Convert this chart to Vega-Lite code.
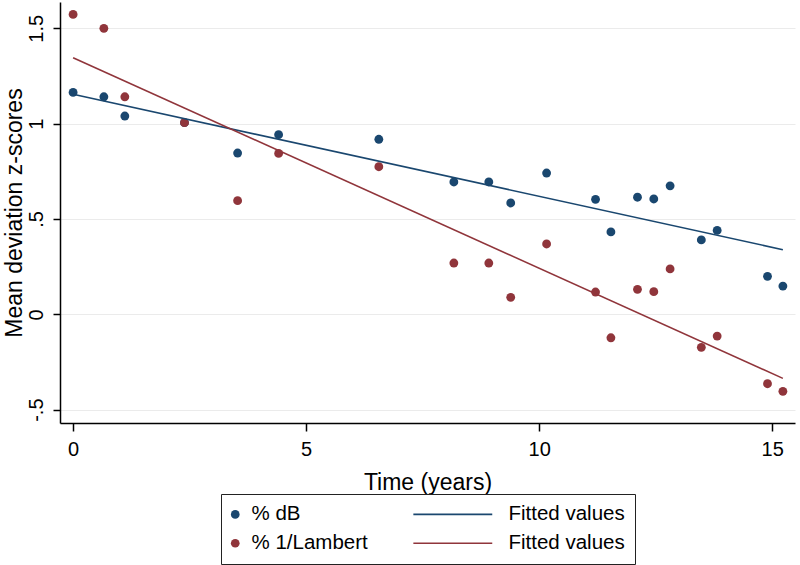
{
  "$schema": "https://vega.github.io/schema/vega-lite/v6.json",
  "width": 735,
  "height": 421,
  "autosize": {"type": "none"},
  "padding": {"left": 60, "top": 2, "right": 5, "bottom": 142},
  "background": "white",
  "config": {
    "view": {"stroke": null},
    "font": "Liberation Sans",
    "axis": {
      "domainColor": "#000000",
      "domainWidth": 1.5,
      "tickColor": "#000000",
      "tickWidth": 1.5,
      "labelColor": "#000000",
      "titleColor": "#000000",
      "labelFont": "Liberation Sans",
      "titleFont": "Liberation Sans",
      "labelFontSize": 20,
      "titleFontSize": 23,
      "titleFontWeight": "normal"
    },
    "legend": {
      "symbolStrokeWidth": 0,
      "labelFont": "Liberation Sans",
      "labelFontSize": 20.5,
      "labelColor": "#000000"
    }
  },
  "data": {
    "values": [
      {"t": 0.0, "z": 1.164, "series": "% dB", "kind": "pt"},
      {"t": 0.66, "z": 1.141, "series": "% dB", "kind": "pt"},
      {"t": 1.11, "z": 1.04, "series": "% dB", "kind": "pt"},
      {"t": 2.39, "z": 1.005, "series": "% dB", "kind": "pt"},
      {"t": 3.53, "z": 0.846, "series": "% dB", "kind": "pt"},
      {"t": 4.41, "z": 0.942, "series": "% dB", "kind": "pt"},
      {"t": 6.56, "z": 0.918, "series": "% dB", "kind": "pt"},
      {"t": 8.17, "z": 0.694, "series": "% dB", "kind": "pt"},
      {"t": 8.92, "z": 0.694, "series": "% dB", "kind": "pt"},
      {"t": 9.39, "z": 0.584, "series": "% dB", "kind": "pt"},
      {"t": 10.16, "z": 0.741, "series": "% dB", "kind": "pt"},
      {"t": 11.21, "z": 0.603, "series": "% dB", "kind": "pt"},
      {"t": 11.54, "z": 0.432, "series": "% dB", "kind": "pt"},
      {"t": 12.11, "z": 0.614, "series": "% dB", "kind": "pt"},
      {"t": 12.46, "z": 0.605, "series": "% dB", "kind": "pt"},
      {"t": 12.81, "z": 0.674, "series": "% dB", "kind": "pt"},
      {"t": 13.48, "z": 0.39, "series": "% dB", "kind": "pt"},
      {"t": 13.82, "z": 0.44, "series": "% dB", "kind": "pt"},
      {"t": 14.9, "z": 0.199, "series": "% dB", "kind": "pt"},
      {"t": 15.23, "z": 0.148, "series": "% dB", "kind": "pt"},
      {"t": 0.0, "z": 1.573, "series": "% 1/Lambert", "kind": "pt"},
      {"t": 0.66, "z": 1.5, "series": "% 1/Lambert", "kind": "pt"},
      {"t": 1.11, "z": 1.141, "series": "% 1/Lambert", "kind": "pt"},
      {"t": 2.39, "z": 1.005, "series": "% 1/Lambert", "kind": "pt"},
      {"t": 3.53, "z": 0.596, "series": "% 1/Lambert", "kind": "pt"},
      {"t": 4.41, "z": 0.844, "series": "% 1/Lambert", "kind": "pt"},
      {"t": 6.56, "z": 0.774, "series": "% 1/Lambert", "kind": "pt"},
      {"t": 8.17, "z": 0.269, "series": "% 1/Lambert", "kind": "pt"},
      {"t": 8.92, "z": 0.269, "series": "% 1/Lambert", "kind": "pt"},
      {"t": 9.39, "z": 0.089, "series": "% 1/Lambert", "kind": "pt"},
      {"t": 10.16, "z": 0.369, "series": "% 1/Lambert", "kind": "pt"},
      {"t": 11.21, "z": 0.117, "series": "% 1/Lambert", "kind": "pt"},
      {"t": 11.54, "z": -0.123, "series": "% 1/Lambert", "kind": "pt"},
      {"t": 12.11, "z": 0.131, "series": "% 1/Lambert", "kind": "pt"},
      {"t": 12.46, "z": 0.119, "series": "% 1/Lambert", "kind": "pt"},
      {"t": 12.81, "z": 0.238, "series": "% 1/Lambert", "kind": "pt"},
      {"t": 13.48, "z": -0.173, "series": "% 1/Lambert", "kind": "pt"},
      {"t": 13.82, "z": -0.114, "series": "% 1/Lambert", "kind": "pt"},
      {"t": 14.9, "z": -0.364, "series": "% 1/Lambert", "kind": "pt"},
      {"t": 15.23, "z": -0.404, "series": "% 1/Lambert", "kind": "pt"},
      {"t": 0.0, "z": 1.154, "series": "fit dB", "kind": "fit"},
      {"t": 15.23, "z": 0.339, "series": "fit dB", "kind": "fit"},
      {"t": 0.0, "z": 1.346, "series": "fit Lambert", "kind": "fit"},
      {"t": 15.23, "z": -0.336, "series": "fit Lambert", "kind": "fit"}
    ]
  },
  "encoding": {
    "x": {
      "field": "t",
      "type": "quantitative",
      "scale": {"domain": [-0.281, 15.49], "nice": false, "zero": false},
      "axis": {
        "title": "Time (years)",
        "values": [0, 5, 10, 15],
        "format": "d",
        "grid": false,
        "tickSize": 8,
        "labelPadding": 8,
        "titlePadding": 12
      }
    },
    "y": {
      "field": "z",
      "type": "quantitative",
      "scale": {"domain": [-0.57, 1.638], "nice": false, "zero": false},
      "axis": {
        "title": "Mean deviation z-scores",
        "values": [-0.5, 0, 0.5, 1, 1.5],
        "format": "~g",
        "labelExpr": "datum.value === -0.5 ? '-.5' : datum.value === 0.5 ? '.5' : datum.label",
        "labelAngle": -90,
        "labelAlign": "center",
        "labelBaseline": "alphabetic",
        "tickSize": 7,
        "labelPadding": 11,
        "titlePadding": 0,
        "grid": true,
        "gridColor": "#ebebeb",
        "gridWidth": 1
      }
    }
  },
  "layer": [
    {
      "transform": [{"filter": "datum.kind === 'pt'"}],
      "mark": {"type": "point", "filled": true, "size": 78, "opacity": 1},
      "encoding": {
        "color": {
          "field": "series",
          "type": "nominal",
          "scale": {
            "domain": ["% dB", "% 1/Lambert", "fit dB", "fit Lambert"],
            "range": ["#1a476f", "#90353b", "#1a476f", "#90353b"]
          },
          "legend": {
            "title": null,
            "orient": "none",
            "legendX": 161,
            "legendY": 492,
            "columns": 2,
            "columnPadding": 45,
            "rowPadding": 8,
            "padding": 10,
            "strokeColor": "#222222",
            "fillColor": "white",
            "labelLimit": 300,
            "labelOffset": 6,
            "symbolOffset": -6,
            "symbolSize": 76,
            "labelExpr": "indexof(datum.value, 'fit') === 0 ? 'Fitted values' : datum.label"
          }
        },
        "shape": {
          "field": "series",
          "type": "nominal",
          "scale": {
            "domain": ["% dB", "% 1/Lambert", "fit dB", "fit Lambert"],
            "range": ["circle", "circle", "M-18.1,-0.18H0V0.18H-18.1Z", "M-18.1,-0.18H0V0.18H-18.1Z"]
          },
          "legend": {
            "title": null,
            "orient": "none",
            "legendX": 161,
            "legendY": 492,
            "columns": 2,
            "columnPadding": 45,
            "rowPadding": 8,
            "padding": 10,
            "strokeColor": "#222222",
            "fillColor": "white",
            "labelLimit": 300,
            "labelOffset": 6,
            "symbolOffset": -6,
            "symbolSize": 76,
            "labelExpr": "indexof(datum.value, 'fit') === 0 ? 'Fitted values' : datum.label"
          }
        }
      }
    },
    {
      "transform": [{"filter": "datum.kind === 'fit'"}],
      "mark": {"type": "line", "strokeWidth": 1.6},
      "encoding": {
        "color": {"field": "series", "type": "nominal", "legend": null},
        "detail": {"field": "series"}
      }
    }
  ]
}
